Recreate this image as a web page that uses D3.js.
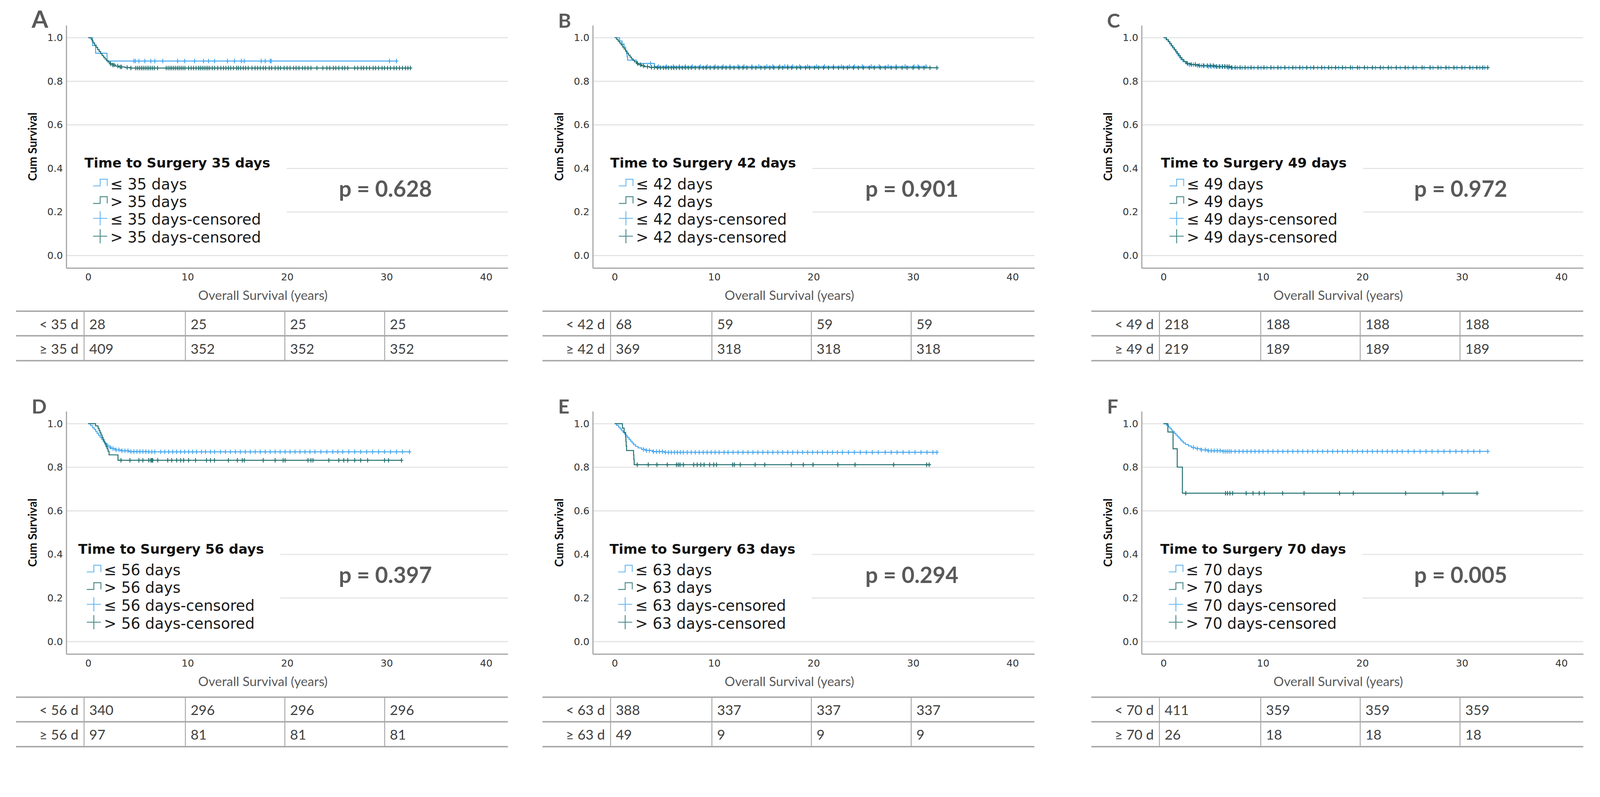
<!DOCTYPE html>
<html>
<head>
<meta charset="utf-8">
<script src="https://cdn.jsdelivr.net/npm/d3@7"></script>
<style>
  html, body { margin: 0; padding: 0; background: #fff; overflow: hidden; }
  svg { display: block; width: 100vw; height: auto; }
</style>
</head>
<body>
<div id="chart"></div>
<script>
// values

const panelLetters = ["A", "B", "C", "D", "E", "F"];
const cutoffDays = [35, 42, 49, 56, 63, 70];
const pValues = ["0.628", "0.901", "0.972", "0.397", "0.294", "0.005"];
const xTicks = [0, 10, 20, 30, 40];
const yTicks = [0, 0.2, 0.4, 0.6, 0.8, 1.0];
const riskTimes = [0, 10, 20, 30];
const riskShort = [[28, 25, 25, 25], [68, 59, 59, 59], [218, 188, 188, 188], [340, 296, 296, 296], [388, 337, 337, 337], [411, 359, 359, 359]];
const riskLong = [[409, 352, 352, 352], [369, 318, 318, 318], [219, 189, 189, 189], [97, 81, 81, 81], [49, 9, 9, 9], [26, 18, 18, 18]];

// Kaplan-Meier steps [years, cum survival] and censoring times (years)
// group 1 = "<=" (blue), group 2 = ">" (teal)
const stepsA1 = [[0, 1], [0.45, 0.964], [0.75, 0.929], [1.9, 0.893]];
const censA1 = [4.6, 4.75, 5.1, 5.7, 6.3, 6.7, 7.5, 9.0, 9.7, 10.7, 11.6, 12.1, 12.7, 14.0, 14.7, 15.4, 15.7, 17.4, 17.8, 18.3, 18.4, 30.3, 31.0];
const stepsA2 = [[0, 1], [0.3, 0.993], [0.4, 0.985], [0.5, 0.976], [0.65, 0.966], [0.8, 0.956], [0.95, 0.946], [1.1, 0.937], [1.25, 0.927], [1.4, 0.918], [1.55, 0.91], [1.7, 0.902], [1.85, 0.895], [2.0, 0.888], [2.2, 0.881], [2.45, 0.875], [2.75, 0.87], [3.1, 0.866], [3.7, 0.863], [4.3, 0.861]];
const censA2 = [2.24, 2.48, 2.61, 2.98, 3.23, 3.36, 3.92, 4.3, 4.79, 4.98, 5.17, 5.36, 5.54, 5.73, 5.92, 6.1, 6.29, 6.48, 6.67, 6.98, 7.85, 8.04, 8.23, 8.41, 8.6, 8.79, 8.98, 9.16, 9.35, 9.54, 9.73, 10.1, 10.35, 10.6, 10.85, 11.1, 11.28, 11.47, 11.66, 11.85, 12.03, 12.22, 12.47, 12.72, 13.03, 13.34, 13.6, 13.85, 14.09, 14.34, 14.6, 14.91, 15.09, 15.34, 15.59, 15.84, 16.09, 16.47, 16.78, 17.05, 17.3, 17.6, 17.85, 18.2, 18.45, 18.8, 19.1, 19.35, 19.7, 20.0, 20.3, 20.65, 20.9, 21.2, 21.55, 21.8, 22.1, 22.4, 23.0, 23.6, 24.0, 24.3, 24.65, 24.9, 25.2, 25.55, 25.8, 26.1, 26.8, 27.1, 27.45, 27.7, 28.0, 28.3, 28.65, 28.9, 29.2, 29.55, 29.8, 30.1, 30.4, 30.75, 31.0, 31.3, 31.6, 31.9, 32.15, 32.4];

const stepsB1 = [[0, 1], [0.5, 0.985], [0.75, 0.971], [0.95, 0.956], [1.1, 0.941], [1.2, 0.926], [1.25, 0.912], [1.3, 0.897], [2.2, 0.882], [4.0, 0.868]];
const censB1 = [3.6, 4.4, 5.2, 5.9, 6.5, 7.1, 7.8, 8.6, 9.3, 10.1, 10.9, 11.6, 12.4, 13.0, 13.8, 14.5, 15.3, 15.9, 16.6, 17.1, 17.4, 17.9, 18.6, 19.4, 20.3, 21.1, 22.0, 22.8, 23.6, 24.1, 24.9, 25.8, 26.6, 27.5, 28.3, 29.2, 30.1, 30.5, 31.3];
const stepsB2 = [[0, 1], [0.2, 0.992], [0.35, 0.984], [0.5, 0.976], [0.65, 0.967], [0.8, 0.957], [0.95, 0.948], [1.1, 0.938], [1.25, 0.929], [1.4, 0.92], [1.55, 0.911], [1.7, 0.903], [1.85, 0.896], [2.0, 0.889], [2.2, 0.882], [2.4, 0.876], [2.7, 0.871], [3.0, 0.867], [3.5, 0.864], [4.2, 0.862]];
const censB2 = [2.3, 2.6, 2.9, 3.3, 3.7, 4.0, 4.3, 4.6, 4.9, 5.15, 5.4, 5.7, 5.95, 6.2, 6.5, 6.8, 7.1, 7.4, 7.7, 8.1, 8.5, 8.9, 9.2, 9.6, 10.0, 10.4, 10.8, 11.2, 11.6, 12.0, 12.5, 12.9, 13.3, 13.8, 14.2, 14.7, 15.1, 15.6, 16.0, 16.5, 16.9, 17.4, 17.8, 18.3, 18.7, 19.2, 19.6, 20.1, 20.5, 21.0, 21.5, 22.0, 22.5, 23.0, 23.4, 24.0, 24.5, 25.0, 25.6, 26.1, 26.7, 27.2, 27.8, 28.3, 28.9, 29.4, 30.0, 30.6, 31.1, 31.7, 32.4];

const stepsC1 = [[0, 1], [0.25, 0.991], [0.45, 0.982], [0.6, 0.972], [0.75, 0.963], [0.9, 0.954], [1.05, 0.945], [1.2, 0.936], [1.3, 0.927], [1.45, 0.917], [1.6, 0.908], [1.75, 0.899], [1.95, 0.89], [2.2, 0.881], [2.6, 0.876], [3.2, 0.871], [4.5, 0.867], [6.5, 0.862]];
const censC1 = [2.6, 3.0, 3.4, 3.8, 4.1, 4.5, 4.8, 5.1, 5.4, 5.7, 5.95, 6.2, 6.5, 6.9, 7.4, 7.9, 8.5, 9.1, 9.8, 10.4, 11.1, 11.8, 12.6, 13.3, 14.0, 14.8, 15.5, 16.2, 16.9, 17.6, 18.3, 19.0, 19.7, 20.5, 21.3, 22.1, 22.9, 23.8, 24.6, 25.4, 26.2, 27.1, 27.9, 28.7, 29.5, 30.3, 31.1, 31.8, 32.3];
const stepsC2 = [[0, 1], [0.3, 0.991], [0.5, 0.982], [0.65, 0.973], [0.8, 0.963], [0.95, 0.954], [1.1, 0.945], [1.25, 0.936], [1.4, 0.927], [1.55, 0.918], [1.7, 0.909], [1.85, 0.9], [2.05, 0.891], [2.3, 0.882], [2.7, 0.877], [3.5, 0.872], [5.2, 0.868], [6.8, 0.863]];
const censC2 = [2.4, 2.8, 3.2, 3.6, 4.0, 4.4, 4.7, 5.0, 5.3, 5.6, 5.9, 6.15, 6.4, 6.6, 6.85, 7.2, 7.7, 8.2, 8.8, 9.5, 10.1, 10.8, 11.5, 12.2, 13.0, 13.7, 14.4, 15.1, 15.9, 16.6, 17.3, 18.0, 18.8, 19.5, 20.2, 21.0, 21.8, 22.6, 23.4, 24.3, 25.1, 26.0, 26.8, 27.6, 28.4, 29.2, 30.0, 30.8, 31.5, 32.1, 32.6];

const stepsD1 = [[0, 1], [0.25, 0.991], [0.45, 0.982], [0.6, 0.974], [0.75, 0.965], [0.9, 0.956], [1.05, 0.947], [1.2, 0.938], [1.35, 0.929], [1.5, 0.92], [1.65, 0.911], [1.8, 0.902], [2.0, 0.893], [2.3, 0.886], [2.7, 0.88], [3.3, 0.876], [4.1, 0.872], [6.0, 0.871]];
const censD1 = [1.9, 2.2, 2.5, 2.8, 3.1, 3.4, 3.7, 4.0, 4.3, 4.6, 4.9, 5.2, 5.5, 5.8, 6.1, 6.4, 6.7, 7.3, 7.7, 8.1, 8.5, 8.9, 9.3, 9.7, 10.1, 10.5, 10.9, 11.4, 11.8, 12.3, 12.7, 13.3, 13.8, 14.3, 14.8, 15.3, 15.8, 16.3, 16.8, 17.3, 17.8, 18.3, 18.8, 19.3, 19.8, 20.3, 20.8, 21.3, 21.8, 22.3, 22.8, 23.4, 24.0, 24.6, 25.1, 25.6, 26.2, 26.8, 27.4, 28.0, 28.6, 29.2, 29.8, 30.4, 31.0, 31.6, 32.3];
const stepsD2 = [[0, 1], [0.75, 0.99], [1.0, 0.979], [1.1, 0.969], [1.2, 0.958], [1.3, 0.948], [1.4, 0.937], [1.5, 0.927], [1.6, 0.916], [1.7, 0.906], [1.8, 0.895], [1.9, 0.885], [2.0, 0.874], [2.1, 0.857], [3.0, 0.832]];
const censD2 = [3.3, 4.2, 5.1, 5.5, 6.1, 6.3, 6.4, 6.5, 7.0, 8.0, 8.4, 8.9, 9.3, 9.6, 10.1, 10.8, 11.9, 12.3, 12.7, 14.1, 15.0, 15.5, 15.7, 17.6, 18.8, 19.6, 19.8, 22.1, 22.4, 22.6, 24.2, 25.2, 25.7, 26.1, 26.8, 27.4, 28.1, 29.8, 30.2, 31.5];

const stepsE1 = [[0, 1], [0.2, 0.992], [0.4, 0.984], [0.55, 0.976], [0.7, 0.968], [0.85, 0.96], [1.0, 0.952], [1.15, 0.944], [1.3, 0.936], [1.45, 0.928], [1.6, 0.92], [1.75, 0.912], [1.9, 0.904], [2.1, 0.896], [2.35, 0.889], [2.7, 0.882], [3.2, 0.877], [3.8, 0.872], [5.0, 0.869]];
const censE1 = [2.9, 3.2, 3.5, 3.9, 4.2, 4.5, 4.8, 5.1, 5.4, 5.7, 6.0, 6.3, 6.6, 6.9, 7.3, 7.7, 8.1, 8.5, 8.9, 9.3, 9.7, 10.1, 10.5, 11.0, 11.4, 11.9, 12.4, 12.9, 13.4, 13.9, 14.4, 14.9, 15.4, 15.9, 16.4, 16.9, 17.4, 17.9, 18.4, 18.9, 19.4, 19.9, 20.4, 20.9, 21.4, 21.9, 22.4, 22.9, 23.5, 24.1, 24.7, 25.3, 25.9, 26.5, 27.2, 27.8, 28.4, 29.0, 29.6, 30.2, 30.8, 31.4, 32.0, 32.4];
const stepsE2 = [[0, 1], [0.78, 0.98], [0.95, 0.96], [1.1, 0.939], [1.13, 0.918], [1.16, 0.898], [1.2, 0.877], [1.9, 0.857], [1.93, 0.836], [1.96, 0.812]];
const censE2 = [2.27, 3.38, 4.25, 5.29, 6.22, 6.4, 6.57, 6.91, 7.95, 8.3, 8.65, 8.99, 9.55, 9.96, 10.24, 11.87, 12.04, 12.63, 14.12, 15.09, 17.76, 18.97, 19.94, 22.44, 24.17, 28.05, 31.37, 31.62];

const stepsF1 = [[0, 1], [0.3, 0.993], [0.5, 0.985], [0.65, 0.978], [0.8, 0.97], [0.95, 0.963], [1.1, 0.956], [1.25, 0.948], [1.4, 0.941], [1.55, 0.934], [1.7, 0.926], [1.85, 0.919], [2.0, 0.912], [2.2, 0.905], [2.5, 0.898], [2.8, 0.891], [3.2, 0.886], [3.8, 0.88], [4.5, 0.876], [6.0, 0.873]];
const censF1 = [3.0, 3.4, 3.8, 4.2, 4.5, 4.8, 5.1, 5.4, 5.7, 6.0, 6.2, 6.4, 6.6, 6.8, 7.2, 7.6, 8.0, 8.4, 8.8, 9.2, 9.6, 10.0, 10.5, 11.0, 11.5, 12.0, 12.5, 13.0, 13.5, 14.0, 14.5, 15.0, 15.5, 16.0, 16.5, 17.0, 17.5, 18.0, 18.5, 19.0, 19.5, 20.0, 20.5, 21.0, 21.5, 22.0, 22.5, 23.0, 23.5, 24.0, 24.6, 25.2, 25.8, 26.4, 27.0, 27.6, 28.2, 28.8, 29.4, 30.0, 30.6, 31.2, 31.8, 32.6];
const stepsF2 = [[0, 1], [0.44, 0.962], [0.96, 0.885], [1.38, 0.801], [1.9, 0.681]];
const censF2 = [2.24, 6.23, 6.43, 6.68, 6.95, 8.31, 9.0, 9.62, 10.14, 11.98, 14.13, 17.7, 19.08, 24.35, 28.09, 31.52];

const panelSteps = [[stepsA1, stepsA2], [stepsB1, stepsB2], [stepsC1, stepsC2], [stepsD1, stepsD2], [stepsE1, stepsE2], [stepsF1, stepsF2]];
const panelCens = [[censA1, censA2], [censB1, censB2], [censC1, censC2], [censD1, censD2], [censE1, censE2], [censF1, censF2]];

// layout
const W = 4297, H = 2041;
const colX = [0, 1414, 2888];
const rowY = [0, 1037];
const legendDx = [49, 47, 52, 32, 45, 50];
const letterSize = [64, 53, 53, 53, 53, 53];
const groupColor = ["#48a8ee", "#22706f"];

const SANS = "'DejaVu Sans', Verdana, sans-serif";
const HUM = "Lato, 'Open Sans', sans-serif";

const svg = d3.select("#chart")
  .append("svg")
    .attr("viewBox", `0 0 ${W} ${H}`)
    .attr("preserveAspectRatio", "xMinYMin meet")
    .style("background", "#fff");

function fitSize(family, weight, str, width) {
  const t = svg.append("text")
    .attr("font-family", family)
    .attr("font-weight", weight)
    .attr("font-size", 100)
    .text(str);
  const w = t.node().getComputedTextLength();
  t.remove();
  return 100 * width / w;
}

document.fonts.ready.then(() => {
  const fs = {
    tick: fitSize(SANS, "normal", "1.0", 42),
    legTitle: fitSize(SANS, "bold", "Time to Surgery 35 days", 499),
    legItem: fitSize(SANS, "normal", "≤ 35 days-censored", 405),
    yTitle: fitSize(HUM, "bold", "Cum Survival", 184),
    xTitle: fitSize(HUM, "normal", "Overall Survival (years)", 348),
    p: fitSize(HUM, "bold", "p = 0.628", 250),
    table: fitSize(HUM, "normal", "409", 65)
  };
  d3.range(6).forEach(i => drawPanel(i, fs));
});

function drawPanel(i, fs) {
  const ox = colX[i % 3];
  const oy = rowY[Math.floor(i / 3)];
  const g = svg.append("g");

  const x = d3.scaleLinear().domain([-2.2, 42.2]).range([178 + ox, 1364 + ox]);
  const y = d3.scaleLinear().domain([-0.057, 1.057]).range([720 + oy, 68 + oy]);
  const [xl, xr] = x.range();

  // gridlines
  g.append("g")
    .selectAll("line")
    .data(yTicks)
    .join("line")
      .attr("x1", xl)
      .attr("x2", xr)
      .attr("y1", d => y(d))
      .attr("y2", d => y(d))
      .attr("stroke", "#e3e3e3")
      .attr("stroke-width", 3);

  // legend box (white, hides gridlines behind it)
  const legendBox = g.append("rect").attr("fill", "#fff");

  // axes
  const yAxis = g.append("g")
      .attr("transform", `translate(${xl},0)`)
      .call(d3.axisLeft(y).tickValues(yTicks).tickFormat(d3.format(".1f")).tickSize(0).tickPadding(9));
  const xAxis = g.append("g")
      .attr("transform", `translate(0,${y.range()[0]})`)
      .call(d3.axisBottom(x).tickValues(xTicks).tickSize(0).tickPadding(15));
  [yAxis, xAxis].forEach(a => {
    a.attr("font-family", SANS).attr("font-size", fs.tick);
    a.select(".domain").attr("stroke", "#a3a3a3").attr("stroke-width", 3);
    a.selectAll(".tick text").attr("fill", "#333");
  });

  // legend
  const tx = xl + legendDx[i];
  const ty = y(0.4) - 2;
  const days = cutoffDays[i];
  const legendLabels = [`≤ ${days} days`, `> ${days} days`, `≤ ${days} days-censored`, `> ${days} days-censored`];
  const title = g.append("text")
      .attr("x", tx)
      .attr("y", ty)
      .attr("font-family", SANS)
      .attr("font-weight", "bold")
      .attr("font-size", fs.legTitle)
      .attr("fill", "#111")
      .text(`Time to Surgery ${days} days`);
  const titleW = title.node().getComputedTextLength();
  legendBox
      .attr("x", xl + 3)
      .attr("y", ty - 46)
      .attr("width", tx + titleW + 44 - xl - 3)
      .attr("height", 270);

  const itemDy = [58, 105, 153, 201];
  legendLabels.forEach((lab, k) => {
    const b = ty + itemDy[k];
    const col = groupColor[k % 2];
    const d = k < 2
      ? `M${tx + 23},${b - 9}H${tx + 42}V${b - 27}H${tx + 61}V${b - 9}`
      : `M${tx + 23},${b - 17}H${tx + 61}M${tx + 42},${b - 36}V${b + 2}`;
    g.append("path")
      .attr("d", d)
      .attr("fill", "none")
      .attr("stroke", col)
      .attr("stroke-width", 2.5)
      .attr("opacity", 0.8);
    g.append("text")
      .attr("x", tx + 69)
      .attr("y", b)
      .attr("font-family", SANS)
      .attr("font-size", fs.legItem)
      .attr("fill", "#1a1a1a")
      .text(lab);
  });

  // curves
  const line = d3.line().x(d => x(d[0])).y(d => y(d[1])).curve(d3.curveStepAfter);
  const bis = d3.bisector(d => d[0]).right;
  [0, 1].forEach(k => {
    const steps = panelSteps[i][k];
    const cens = panelCens[i][k];
    const last = steps[steps.length - 1];
    const tEnd = Math.max(d3.max(cens), last[0]);
    const pts = steps.concat([[tEnd, last[1]]]);
    g.append("path")
      .attr("d", line(pts))
      .attr("fill", "none")
      .attr("stroke", groupColor[k])
      .attr("stroke-width", 2.6);
    g.append("g")
      .selectAll("path")
      .data(cens)
      .join("path")
        .attr("d", t => {
          const cx = x(t), cy = y(steps[bis(steps, t) - 1][1]);
          return `M${cx - 5},${cy}H${cx + 5}M${cx},${cy - 6}V${cy + 6}`;
        })
        .attr("stroke", groupColor[k])
        .attr("stroke-width", 2.4)
        .attr("fill", "none");
  });

  // y title
  g.append("text")
    .attr("transform", `translate(${xl - 92},${y(0.5)}) rotate(-90)`)
    .attr("text-anchor", "middle")
    .attr("dominant-baseline", "central")
    .attr("font-family", HUM)
    .attr("font-weight", "bold")
    .attr("font-size", fs.yTitle)
    .attr("fill", "#111")
    .text("Cum Survival");

  // x title
  g.append("text")
    .attr("x", ox + 706)
    .attr("y", oy + 806)
    .attr("text-anchor", "middle")
    .attr("font-family", HUM)
    .attr("font-size", fs.xTitle)
    .attr("fill", "#595959")
    .text("Overall Survival (years)");

  // p value
  g.append("text")
    .attr("x", xl + 732)
    .attr("y", y(0.3) + 18)
    .attr("font-family", HUM)
    .attr("font-weight", "bold")
    .attr("font-size", fs.p)
    .attr("fill", "#595959")
    .text(`p = ${pValues[i]}`);

  // panel letter
  g.append("text")
    .attr("x", ox + 85)
    .attr("y", oy + 74)
    .attr("font-family", HUM)
    .attr("font-weight", "bold")
    .attr("font-size", letterSize[i])
    .attr("fill", "#595959")
    .text(panelLetters[i]);

  // numbers-at-risk table
  const top = oy + 836;
  const rowLines = [top, top + 66, top + 133];
  const rowMid = [top + 35, top + 101];
  const valDx = [3, 8, 8, 9];
  const tb = g.append("g");
  tb.selectAll("line.h")
    .data(rowLines)
    .join("line")
      .attr("class", "h")
      .attr("x1", ox + 43)
      .attr("x2", ox + 1364)
      .attr("y1", d => d)
      .attr("y2", d => d)
      .attr("stroke", "#a8a8a8")
      .attr("stroke-width", 4);
  tb.selectAll("line.v")
    .data(riskTimes)
    .join("line")
      .attr("class", "v")
      .attr("x1", (t, j) => x(t) + valDx[j] - 14)
      .attr("x2", (t, j) => x(t) + valDx[j] - 14)
      .attr("y1", top)
      .attr("y2", top + 133)
      .attr("stroke", "#a8a8a8")
      .attr("stroke-width", 2.5);
  const rows = [
    {label: `< ${days} d`, vals: riskShort[i]},
    {label: `≥ ${days} d`, vals: riskLong[i]}
  ];
  rows.forEach((r, ri) => {
    tb.append("text")
      .attr("x", x(0) - 26)
      .attr("y", rowMid[ri])
      .attr("dy", "0.35em")
      .attr("text-anchor", "end")
      .attr("font-family", HUM)
      .attr("font-size", fs.table)
      .attr("fill", "#404040")
      .text(r.label);
    tb.append("g")
      .selectAll("text")
      .data(r.vals)
      .join("text")
        .attr("x", (v, j) => x(riskTimes[j]) + valDx[j])
        .attr("y", rowMid[ri])
        .attr("dy", "0.35em")
        .attr("font-family", HUM)
        .attr("font-size", fs.table)
        .attr("fill", "#404040")
        .text(v => v);
  });
}
</script>
</body>
</html>
